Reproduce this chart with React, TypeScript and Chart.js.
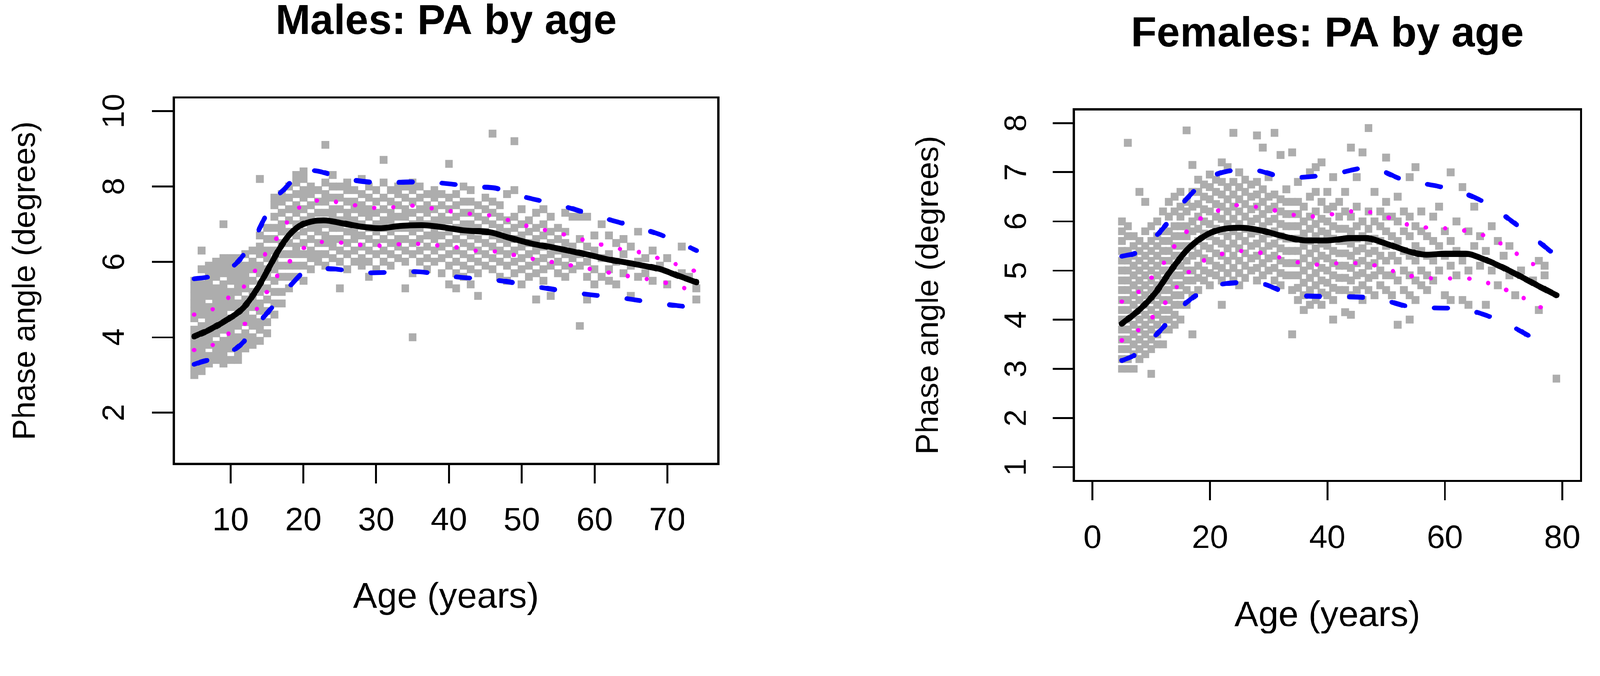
import React, { useEffect, useRef } from "react";
import { Chart, registerables } from "chart.js";

Chart.register(...registerables);

const FONT = "'Liberation Sans', Arial, Helvetica, sans-serif";

// ---------------- tick labels ----------------
const maleXTicks = [10, 20, 30, 40, 50, 60, 70];
const maleYTicks = [2, 4, 6, 8, 10];
const femaleXTicks = [0, 20, 40, 60, 80];
const femaleYTicks = [1, 2, 3, 4, 5, 6, 7, 8];

// ---------------- males: observations (age -> phase angles) ----------------
const maleScatter: [number, number[]][] = [
  [5, [3.0, 3.2, 3.4, 3.6, 3.8, 4.0, 4.2, 4.5, 4.7, 4.9, 5.1, 5.3, 5.5]],
  [6, [3.1, 3.3, 3.5, 3.7, 3.9, 4.1, 4.3, 4.6, 4.8, 5.0, 5.2, 5.4, 5.8, 6.3]],
  [7, [3.3, 3.5, 3.8, 4.0, 4.2, 4.4, 4.6, 4.8, 5.1, 5.3, 5.5, 5.7, 5.9]],
  [8, [3.4, 3.6, 3.8, 4.1, 4.3, 4.5, 4.7, 4.9, 5.1, 5.3, 5.6, 5.8, 6.0]],
  [9, [3.3, 3.5, 3.7, 3.9, 4.2, 4.4, 4.6, 4.8, 5.0, 5.2, 5.4, 5.7, 5.9, 6.1, 7.0]],
  [10, [3.4, 3.7, 3.9, 4.1, 4.3, 4.5, 4.8, 5.0, 5.2, 5.5, 5.7, 5.9, 6.1]],
  [11, [3.4, 3.6, 3.8, 4.0, 4.3, 4.5, 4.7, 4.9, 5.2, 5.4, 5.6, 5.8, 6.0, 6.1]],
  [12, [3.7, 3.9, 4.1, 4.4, 4.6, 4.8, 5.0, 5.3, 5.5, 5.7, 5.9, 6.2]],
  [13, [3.8, 4.0, 4.3, 4.5, 4.8, 5.0, 5.2, 5.5, 5.8, 6.0, 6.3]],
  [14, [3.9, 4.2, 4.4, 4.7, 4.9, 5.2, 5.4, 5.7, 5.9, 6.2, 6.4, 6.7, 8.2]],
  [15, [4.1, 4.4, 4.7, 5.0, 5.3, 5.6, 5.8, 6.1, 6.3, 6.6, 6.9]],
  [16, [4.6, 4.9, 5.2, 5.5, 5.8, 6.0, 6.3, 6.6, 6.9, 7.2, 7.5, 7.7]],
  [17, [4.9, 5.2, 5.6, 5.9, 6.2, 6.5, 6.8, 7.0, 7.3, 7.6, 7.8]],
  [18, [5.3, 5.6, 5.9, 6.2, 6.5, 6.8, 7.1, 7.4, 7.7, 8.0]],
  [19, [5.6, 5.9, 6.2, 6.4, 6.7, 7.0, 7.3, 7.5, 7.8, 8.1, 8.3]],
  [20, [5.5, 5.9, 6.2, 6.5, 6.8, 7.1, 7.4, 7.7, 7.9, 8.2, 8.4]],
  [21, [5.8, 6.1, 6.3, 6.6, 6.9, 7.2, 7.5, 7.8, 8.0]],
  [22, [6.0, 6.2, 6.5, 6.8, 7.0, 7.3, 7.6, 7.9]],
  [23, [5.9, 6.2, 6.5, 6.7, 7.0, 7.3, 7.6, 7.8, 8.1, 9.1]],
  [24, [6.1, 6.4, 6.6, 6.9, 7.2, 7.4, 7.7, 8.0, 8.3]],
  [25, [5.3, 6.0, 6.3, 6.6, 6.9, 7.1, 7.4, 7.7, 8.0]],
  [26, [5.8, 6.2, 6.5, 6.8, 7.1, 7.3, 7.6, 7.9, 8.1]],
  [27, [6.0, 6.3, 6.6, 6.8, 7.1, 7.4, 7.6, 7.9]],
  [28, [5.9, 6.1, 6.4, 6.7, 7.0, 7.3, 7.5, 7.8, 8.2]],
  [29, [5.6, 6.0, 6.3, 6.6, 6.9, 7.2, 7.4, 7.7, 8.0]],
  [30, [5.8, 6.2, 6.5, 6.8, 7.0, 7.3, 7.6, 7.9]],
  [31, [6.0, 6.3, 6.6, 6.9, 7.1, 7.4, 7.7, 8.1, 8.7]],
  [32, [5.9, 6.2, 6.5, 6.8, 7.1, 7.3, 7.6, 7.9]],
  [33, [6.1, 6.4, 6.6, 6.9, 7.2, 7.5, 7.8, 8.0]],
  [34, [5.3, 6.0, 6.3, 6.6, 6.9, 7.2, 7.4, 7.7, 8.0]],
  [35, [4.0, 5.7, 6.2, 6.5, 6.8, 7.0, 7.3, 7.6, 7.9, 8.1]],
  [36, [6.0, 6.3, 6.6, 6.9, 7.1, 7.4, 7.7, 8.0]],
  [37, [5.8, 6.1, 6.4, 6.7, 7.0, 7.3, 7.5, 7.8]],
  [38, [6.0, 6.3, 6.6, 6.8, 7.1, 7.4, 7.7, 7.9]],
  [39, [5.7, 6.1, 6.4, 6.7, 7.0, 7.2, 7.5, 7.8]],
  [40, [5.4, 5.9, 6.2, 6.5, 6.8, 7.1, 7.4, 7.7, 8.6]],
  [41, [5.3, 5.7, 6.0, 6.3, 6.6, 6.9, 7.2, 7.5, 7.8]],
  [42, [5.6, 5.9, 6.2, 6.5, 6.8, 7.0, 7.3, 7.6, 8.0]],
  [43, [5.4, 5.8, 6.1, 6.4, 6.7, 7.0, 7.3, 7.6, 7.9]],
  [44, [5.1, 5.7, 6.0, 6.3, 6.6, 6.9, 7.2, 7.5]],
  [45, [5.9, 6.2, 6.5, 6.8, 7.1, 7.4, 7.7]],
  [46, [5.8, 6.1, 6.4, 6.7, 7.0, 7.3, 7.6, 9.4]],
  [47, [5.6, 6.0, 6.3, 6.6, 6.9, 7.2, 7.5]],
  [48, [5.5, 5.9, 6.2, 6.5, 6.8, 7.1, 7.8]],
  [49, [5.7, 6.0, 6.3, 6.6, 6.9, 7.2, 7.9, 9.2]],
  [50, [5.4, 5.8, 6.1, 6.4, 6.7, 7.0, 7.4]],
  [51, [5.6, 5.9, 6.2, 6.5, 6.8, 7.1]],
  [52, [5.0, 5.7, 6.0, 6.3, 6.6, 6.9, 7.3]],
  [53, [5.5, 5.8, 6.1, 6.4, 6.7, 7.0, 7.4]],
  [54, [5.1, 5.9, 6.2, 6.5, 6.8, 7.2]],
  [55, [5.7, 6.0, 6.3, 6.6, 6.9]],
  [56, [5.6, 5.9, 6.2, 6.5, 6.8, 7.3]],
  [57, [5.8, 6.1, 6.4, 7.2]],
  [58, [4.3, 5.9, 6.2, 6.6, 7.2]],
  [59, [5.0, 5.6, 6.0, 6.4, 7.2]],
  [60, [5.4, 5.8, 6.3, 6.7]],
  [61, [5.6, 6.1, 7.0]],
  [62, [5.5, 5.8, 6.2, 6.7]],
  [63, [5.4, 6.0, 6.5]],
  [64, [5.7, 6.2, 6.6]],
  [65, [5.1, 5.9, 6.4]],
  [66, [5.6, 6.0, 6.8]],
  [67, [5.7, 6.1]],
  [68, [5.5, 6.3]],
  [69, [5.9]],
  [70, [5.4, 6.1]],
  [72, [5.7, 6.4]],
  [73, [5.6]],
  [74, [5.0, 5.3]],
];

// males: fitted centiles
const maleMedian: [number, number][] = [
  [5, 4.02], [7, 4.19], [9.4, 4.45], [11.8, 4.79], [13.7, 5.3], [15.15, 5.8], [16.6, 6.31],
  [18, 6.7], [19.45, 6.95], [21.4, 7.08], [22.8, 7.1], [25.2, 7.03], [28, 6.93], [30.4, 6.89],
  [33.3, 6.95], [36.2, 6.97], [38.6, 6.93], [41.9, 6.84], [45.7, 6.78], [48.1, 6.65], [51, 6.5],
  [54.8, 6.36], [58.15, 6.23], [62, 6.06], [65.8, 5.93], [69.1, 5.8], [71.5, 5.63], [74, 5.46],
];
const maleUpper: [number, number][] = [
  [5, 5.55], [7, 5.6], [9, 5.75], [10.85, 5.97], [13.2, 6.61], [16.1, 7.67], [17.5, 7.95],
  [19.45, 8.35], [21.4, 8.42], [23.75, 8.32], [27.1, 8.16], [31.9, 8.1], [34.7, 8.12], [38.1, 8.1],
  [43.8, 7.99], [46.5, 7.95], [49.55, 7.76], [55.3, 7.5], [60.5, 7.2], [66.3, 6.89], [70, 6.65], [74, 6.3],
];
const maleLower: [number, number][] = [
  [5, 3.28], [6.07, 3.35], [8, 3.45], [11.33, 3.79], [13.5, 4.3], [15.87, 4.83], [18.26, 5.38],
  [20.4, 5.76], [23, 5.82], [29, 5.71], [35.2, 5.74], [40.95, 5.6], [46.7, 5.51], [52.7, 5.32],
  [58.15, 5.16], [64.1, 5.03], [69.9, 4.87], [73, 4.8],
];
const maleQ3: [number, number][] = [
  [5, 4.6], [7.5, 4.74], [9.9, 5.08], [12, 5.38], [14.9, 6.25], [16.6, 6.7], [18, 7.12], [19.7, 7.48],
  [22.6, 7.63], [25.4, 7.56], [28.3, 7.46], [31.2, 7.42], [34, 7.5], [36.9, 7.44], [40, 7.35],
  [43.1, 7.27], [45.7, 7.23], [48.6, 7.08], [51.5, 6.91], [54.3, 6.8], [57.2, 6.65], [60.1, 6.5],
  [62.9, 6.36], [65.8, 6.27], [68.4, 6.12], [71, 5.95], [74, 5.74],
];
const maleQ1: [number, number][] = [
  [5, 3.66], [7.7, 3.81], [10.1, 4.15], [12.5, 4.45], [15.15, 5.25], [16.6, 5.68], [18.7, 6.12],
  [20.65, 6.44], [23.5, 6.53], [26.6, 6.48], [29.5, 6.42], [32.35, 6.46], [35.2, 6.48], [38.1, 6.44],
  [41.2, 6.38], [44, 6.29], [46.9, 6.27], [49.8, 6.14], [52.7, 6.04], [55.5, 5.95], [58.4, 5.85],
  [61.3, 5.74], [64.1, 5.64], [67, 5.55], [69.9, 5.44], [72.7, 5.28], [74, 5.2],
];

// ---------------- females: observations ----------------
const femaleScatter: [number, number[]][] = [
  [5, [3.0, 3.2, 3.4, 3.6, 3.8, 4.0, 4.2, 4.4, 4.6, 4.8, 5.0, 5.2, 5.4, 5.6, 5.8, 6.0]],
  [6, [3.0, 3.2, 3.4, 3.6, 3.8, 4.0, 4.2, 4.4, 4.6, 4.8, 5.0, 5.2, 5.4, 5.7, 5.9, 7.6]],
  [7, [3.0, 3.3, 3.5, 3.7, 3.9, 4.1, 4.3, 4.5, 4.7, 4.9, 5.1, 5.3, 5.5, 5.7]],
  [8, [3.2, 3.4, 3.6, 3.8, 4.0, 4.2, 4.4, 4.6, 4.8, 5.0, 5.2, 5.4, 5.6, 6.6]],
  [9, [3.3, 3.5, 3.7, 3.9, 4.1, 4.3, 4.5, 4.7, 4.9, 5.1, 5.3, 5.5, 5.8, 6.4]],
  [10, [2.9, 3.4, 3.6, 3.8, 4.0, 4.2, 4.4, 4.6, 4.8, 5.0, 5.2, 5.4, 5.6, 5.9]],
  [11, [3.5, 3.7, 3.9, 4.1, 4.3, 4.5, 4.7, 4.9, 5.1, 5.3, 5.5, 5.7, 6.0]],
  [12, [3.5, 3.8, 4.0, 4.2, 4.4, 4.6, 4.8, 5.0, 5.2, 5.4, 5.6, 5.8, 6.2]],
  [13, [3.8, 4.0, 4.2, 4.4, 4.6, 4.8, 5.0, 5.2, 5.4, 5.6, 5.8, 6.1, 6.4]],
  [14, [3.9, 4.1, 4.3, 4.5, 4.7, 4.9, 5.1, 5.3, 5.5, 5.7, 5.9, 6.2, 6.5]],
  [15, [4.0, 4.3, 4.5, 4.7, 4.9, 5.1, 5.3, 5.5, 5.7, 5.9, 6.1, 6.3, 6.6]],
  [16, [4.3, 4.6, 4.8, 5.0, 5.2, 5.5, 5.7, 5.9, 6.2, 6.4, 7.85]],
  [17, [3.7, 4.5, 4.8, 5.0, 5.3, 5.5, 5.8, 6.0, 6.3, 6.6, 7.15]],
  [18, [4.6, 4.85, 5.1, 5.35, 5.6, 5.85, 6.1, 6.35, 6.6, 6.85]],
  [19, [4.8, 5.0, 5.25, 5.5, 5.75, 6.0, 6.25, 6.5, 6.75]],
  [20, [4.7, 4.95, 5.2, 5.45, 5.7, 5.95, 6.2, 6.45, 6.7, 6.95]],
  [21, [4.9, 5.1, 5.35, 5.6, 5.85, 6.1, 6.35, 6.6, 6.85]],
  [22, [4.3, 4.8, 5.05, 5.3, 5.55, 5.8, 6.05, 6.3, 6.55, 6.8, 7.2]],
  [23, [4.95, 5.2, 5.45, 5.7, 5.95, 6.2, 6.45, 6.7, 7.1]],
  [24, [4.8, 5.05, 5.3, 5.55, 5.8, 6.05, 6.3, 6.55, 6.8, 7.8]],
  [25, [4.7, 4.95, 5.2, 5.45, 5.7, 5.95, 6.2, 6.45, 6.7, 7.0]],
  [26, [4.85, 5.1, 5.35, 5.6, 5.85, 6.1, 6.35, 6.6, 6.85]],
  [27, [5.0, 5.25, 5.5, 5.75, 6.0, 6.25, 6.5, 6.75]],
  [28, [4.8, 5.05, 5.3, 5.55, 5.8, 6.05, 6.3, 6.55, 6.8, 7.75]],
  [29, [4.9, 5.15, 5.4, 5.65, 5.9, 6.15, 6.4, 6.65, 7.5]],
  [30, [5.0, 5.25, 5.5, 5.75, 6.0, 6.25, 6.5, 6.9]],
  [31, [4.8, 5.05, 5.3, 5.55, 5.8, 6.05, 6.3, 6.55, 7.8]],
  [32, [4.7, 4.95, 5.2, 5.45, 5.7, 5.95, 6.2, 6.45, 7.35]],
  [33, [4.9, 5.15, 5.4, 5.65, 5.9, 6.15, 6.4, 6.65]],
  [34, [3.7, 4.6, 4.9, 5.15, 5.4, 5.65, 5.9, 6.15, 6.4, 7.4]],
  [35, [4.4, 4.65, 4.9, 5.15, 5.4, 5.65, 5.9, 6.15, 6.4, 6.8]],
  [36, [4.2, 4.5, 4.75, 5.0, 5.25, 5.5, 5.75, 6.0, 6.3]],
  [37, [4.3, 4.6, 4.85, 5.1, 5.35, 5.6, 5.85, 6.1, 6.5, 7.0]],
  [38, [4.4, 4.7, 4.95, 5.2, 5.45, 5.7, 5.95, 6.2, 6.6, 7.1]],
  [39, [4.3, 4.55, 4.8, 5.05, 5.3, 5.55, 5.8, 6.05, 6.4, 7.2]],
  [40, [4.5, 4.75, 5.0, 5.25, 5.5, 5.75, 6.0, 6.25, 6.6]],
  [41, [4.0, 4.4, 4.65, 4.9, 5.15, 5.4, 5.65, 5.9, 6.3, 6.9]],
  [42, [4.6, 4.85, 5.1, 5.35, 5.6, 5.85, 6.1, 6.4]],
  [43, [4.15, 4.6, 4.85, 5.1, 5.35, 5.6, 5.85, 6.2, 6.6]],
  [44, [4.1, 4.5, 4.8, 5.05, 5.3, 5.55, 5.8, 6.1, 7.5]],
  [45, [4.6, 4.9, 5.15, 5.4, 5.65, 5.9, 6.3, 6.9]],
  [46, [4.4, 4.7, 4.95, 5.2, 5.45, 5.7, 6.0, 7.4]],
  [47, [4.6, 4.85, 5.1, 5.35, 5.6, 5.85, 6.2, 7.9]],
  [48, [4.5, 4.9, 5.15, 5.4, 5.65, 6.0, 6.6]],
  [49, [4.7, 5.0, 5.3, 5.6, 5.9, 6.2]],
  [50, [4.6, 4.9, 5.2, 5.5, 5.8, 6.1, 6.4, 7.3]],
  [51, [4.5, 4.9, 5.3, 5.7, 6.1]],
  [52, [3.9, 4.8, 5.2, 5.6, 6.0, 6.5]],
  [53, [4.6, 5.0, 5.4, 5.8, 6.2]],
  [54, [4.0, 4.5, 4.9, 5.3, 5.7, 6.1, 6.9]],
  [55, [4.4, 4.8, 5.2, 5.5, 5.9, 7.1]],
  [56, [4.7, 5.0, 5.4, 5.8, 6.2]],
  [57, [4.6, 4.9, 5.3, 5.7]],
  [58, [4.8, 5.2, 5.6, 6.1]],
  [59, [5.0, 5.5, 6.3]],
  [60, [4.5, 5.3, 5.8]],
  [61, [4.4, 5.1, 5.6, 7.0]],
  [62, [4.9, 5.4, 6.0]],
  [63, [4.4, 5.2, 6.7]],
  [64, [4.3, 5.0, 5.8]],
  [65, [5.5, 6.3]],
  [66, [5.1, 5.7]],
  [67, [4.3, 5.4]],
  [68, [5.0, 5.9]],
  [69, [4.7, 5.6]],
  [70, [5.3]],
  [71, [4.9, 5.5]],
  [72, [4.5]],
  [73, [5.0]],
  [75, [4.8]],
  [76, [4.2, 5.2]],
  [77, [4.9, 5.1]],
  [79, [2.8]],
];

const femaleMedian: [number, number][] = [
  [5, 3.92], [7.87, 4.19], [10.6, 4.53], [13.4, 5.01], [16.1, 5.42], [18.9, 5.69], [21.6, 5.83],
  [25, 5.87], [28.2, 5.83], [32.1, 5.71], [36.5, 5.61], [39.8, 5.61], [44.2, 5.66], [46.4, 5.66],
  [49.7, 5.56], [53.6, 5.4], [56.9, 5.32], [60.2, 5.34], [63.5, 5.34], [66.25, 5.25], [69.55, 5.08],
  [72.9, 4.88], [76.2, 4.67], [79, 4.5],
];
const femaleUpper: [number, number][] = [
  [5, 5.29], [7.6, 5.37], [11.3, 5.76], [15.5, 6.39], [20.4, 6.92], [26.9, 7.05], [33.5, 6.89],
  [40.4, 6.95], [47, 7.09], [53.1, 6.84], [59.75, 6.69], [66.1, 6.43], [71.8, 5.97], [77.2, 5.47], [78.2, 5.37],
];
const femaleLower: [number, number][] = [
  [5, 3.17], [7.3, 3.29], [11.3, 3.75], [16, 4.35], [21.6, 4.71], [27.4, 4.76], [35, 4.49],
  [41.6, 4.47], [48.4, 4.43], [55, 4.25], [61.7, 4.23], [68.2, 4.04], [74.2, 3.68], [75.5, 3.58],
];
const femaleQ3: [number, number][] = [
  [5, 4.37], [7.9, 4.57], [10.1, 4.86], [12.3, 5.18], [13.9, 5.49], [16.1, 5.8], [18.3, 6.05],
  [21.4, 6.22], [24.9, 6.33], [28.2, 6.29], [31.6, 6.21], [34.9, 6.12], [38.2, 6.1], [41.5, 6.16],
  [45, 6.21], [48.4, 6.16], [51.7, 6.02], [54.7, 5.9], [58, 5.87], [61.3, 5.85], [64.6, 5.78],
  [67.9, 5.66], [70.7, 5.46], [73.7, 5.23], [76.4, 5.03],
];
const femaleQ1: [number, number][] = [
  [5, 3.58], [7.6, 3.77], [10.3, 4.06], [12.5, 4.36], [14.5, 4.69], [16.7, 5.01], [19.2, 5.22],
  [22.5, 5.35], [25.8, 5.4], [29.1, 5.35], [32.4, 5.25], [35.7, 5.15], [39, 5.12], [42.3, 5.15],
  [45.9, 5.15], [48.9, 5.08], [52.5, 4.94], [55.8, 4.86], [59.1, 4.84], [62.4, 4.84], [65.7, 4.81],
  [69, 4.67], [72, 4.53], [75.1, 4.33], [78.1, 4.14],
];

// ---------------- panel ----------------
type Layout = {
  left: number; width: number; height: number;
  padTop: number; padRight: number; yAxisW: number; xAxisH: number;
  xTickLen: number; xTickPad: number; xTitlePad: number;
  yTickLen: number; yTitlePad: number; yLabelX: number; titleY: number;
  xMin: number; xMax: number; yMin: number; yMax: number;
};

function Panel(props: any) {
  const ref = useRef<HTMLCanvasElement>(null);
  const L: Layout = props.layout;
  useEffect(() => {
    const toXY = (a: [number, number][]) => a.map(([x, y]) => ({ x, y }));
    const pts = (props.scatter as [number, number[]][]).flatMap(([age, vals]) =>
      vals.map((v) => ({ x: age, y: v }))
    );
    const lineBase = {
      showLine: true, pointRadius: 0, pointHoverRadius: 0,
      cubicInterpolationMode: "monotone", borderCapStyle: "round", borderJoinStyle: "round",
    };
    const overlay = {
      id: "rOverlay",
      afterDraw(chart: any) {
        const ctx = chart.ctx;
        const a = chart.chartArea;
        const ys = chart.scales.y;
        ctx.save();
        ctx.fillStyle = "#000";
        ctx.font = `84px ${FONT}`;
        ctx.textAlign = "center";
        ctx.textBaseline = "alphabetic";
        ys.ticks.forEach((t: any) => {
          const py = ys.getPixelForValue(t.value);
          ctx.save();
          ctx.translate(L.yLabelX, py);
          ctx.rotate(-Math.PI / 2);
          ctx.fillText(String(t.value), 0, 0);
          ctx.restore();
        });
        ctx.lineWidth = 6;
        ctx.strokeStyle = "#000";
        ctx.strokeRect(a.left, a.top, a.right - a.left, a.bottom - a.top);
        ctx.font = `bold 113px ${FONT}`;
        ctx.fillText(props.title, (a.left + a.right) / 2, L.titleY);
        ctx.restore();
      },
    };
    const chart = new Chart(ref.current as HTMLCanvasElement, {
      type: "scatter",
      data: {
        datasets: [
          { ...lineBase, data: toXY(props.q3), borderColor: "#ff00ff", borderWidth: 12, borderDash: [0.1, 52], order: 1 },
          { ...lineBase, data: toXY(props.q1), borderColor: "#ff00ff", borderWidth: 12, borderDash: [0.1, 52], order: 1 },
          { ...lineBase, data: toXY(props.upper), borderColor: "#0000ff", borderWidth: 13, borderDash: [36, 80], order: 2 },
          { ...lineBase, data: toXY(props.lower), borderColor: "#0000ff", borderWidth: 13, borderDash: [36, 80], order: 2 },
          { ...lineBase, data: toXY(props.median), borderColor: "#000000", borderWidth: 16, order: 3 },
          {
            data: pts, pointStyle: "rect", pointRadius: 15, pointHoverRadius: 15,
            backgroundColor: "#adadad", borderWidth: 0, showLine: false, order: 9,
          },
        ] as any,
      },
      options: {
        animation: false,
        responsive: false,
        devicePixelRatio: 1,
        events: [],
        layout: { padding: { left: 0, top: L.padTop, right: L.padRight, bottom: 0 } },
        plugins: { legend: { display: false }, tooltip: { enabled: false } },
        scales: {
          x: {
            type: "linear", position: "bottom", min: L.xMin, max: L.xMax,
            afterFit: (s: any) => { s.height = L.xAxisH; },
            afterBuildTicks: (s: any) => { s.ticks = props.xTicks.map((v: number) => ({ value: v })); },
            ticks: {
              color: "#000", font: { size: 88, family: FONT }, padding: L.xTickPad,
              autoSkip: false, maxRotation: 0, minRotation: 0, callback: (v: any) => String(v),
            },
            grid: { display: true, drawOnChartArea: false, drawTicks: true, tickLength: L.xTickLen, tickWidth: 5, tickColor: "#000" },
            border: { display: false },
            title: { display: true, text: "Age (years)", color: "#000", font: { size: 97, family: FONT }, padding: { top: 0, bottom: L.xTitlePad } },
          },
          y: {
            type: "linear", position: "left", min: L.yMin, max: L.yMax,
            afterFit: (s: any) => { s.width = L.yAxisW; },
            afterBuildTicks: (s: any) => { s.ticks = props.yTicks.map((v: number) => ({ value: v })); },
            ticks: { display: false },
            grid: { display: true, drawOnChartArea: false, drawTicks: true, tickLength: L.yTickLen, tickWidth: 5, tickColor: "#000" },
            border: { display: false },
            title: { display: true, text: "Phase angle (degrees)", color: "#000", font: { size: 85, family: FONT }, padding: { top: L.yTitlePad, bottom: 0 } },
          },
        },
      } as any,
      plugins: [overlay],
    });
    return () => chart.destroy();
  }, []);
  return (
    <canvas
      ref={ref}
      width={L.width}
      height={L.height}
      style={{ position: "absolute", left: L.left, top: 0, width: L.width, height: L.height }}
    />
  );
}

const maleLayout: Layout = {
  left: 0, width: 2150, height: 1731, padTop: 263, padRight: 212, yAxisW: 469, xAxisH: 479,
  xTickLen: 53, xTickPad: 49, xTitlePad: 60, yTickLen: 59, yTitlePad: 20, yLabelX: 334, titleY: 92,
  xMin: 2.2, xMax: 77.0, yMin: 0.64, yMax: 10.36,
};
const femaleLayout: Layout = {
  left: 2150, width: 2167, height: 1731, padTop: 295, padRight: 22, yAxisW: 747, xAxisH: 433,
  xTickLen: 52, xTickPad: 52, xTitlePad: 10, yTickLen: 57, yTitlePad: 307, yLabelX: 618, titleY: 125,
  xMin: -3.2, xMax: 83.2, yMin: 0.72, yMax: 8.28,
};

const PAGE_W = 4317;
const PAGE_H = 1731;

export default function App() {
  let s = 1;
  if (typeof window !== "undefined") {
    const w = document.documentElement.clientWidth || window.innerWidth;
    const h = document.documentElement.clientHeight || window.innerHeight;
    const k = Math.min(w / PAGE_W, h / PAGE_H);
    if (isFinite(k) && k > 0) s = k;
  }
  return (
    <div
      style={{
        position: "absolute", left: 0, top: 0, width: PAGE_W, height: PAGE_H,
        background: "#fff", overflow: "hidden", transform: `scale(${s})`, transformOrigin: "0 0",
      }}
    >
      <Panel
        layout={maleLayout} title="Males: PA by age" scatter={maleScatter}
        median={maleMedian} upper={maleUpper} lower={maleLower} q3={maleQ3} q1={maleQ1}
        xTicks={maleXTicks} yTicks={maleYTicks}
      />
      <Panel
        layout={femaleLayout} title="Females: PA by age" scatter={femaleScatter}
        median={femaleMedian} upper={femaleUpper} lower={femaleLower} q3={femaleQ3} q1={femaleQ1}
        xTicks={femaleXTicks} yTicks={femaleYTicks}
      />
    </div>
  );
}
